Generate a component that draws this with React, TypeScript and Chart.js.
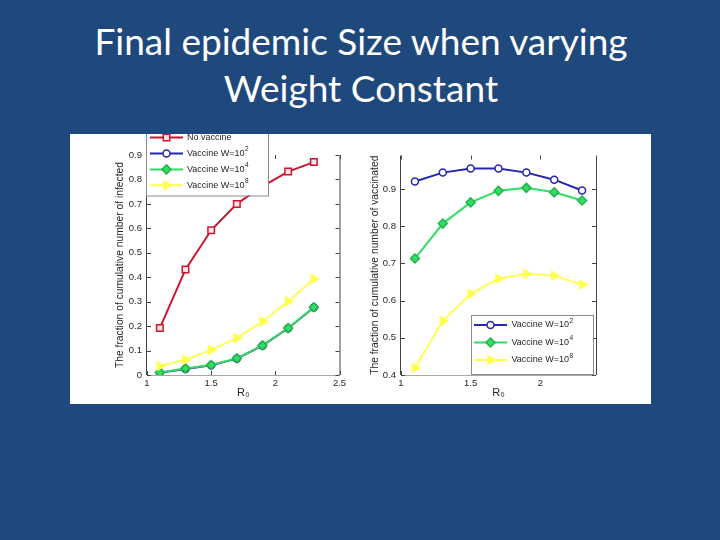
import { useEffect, useRef } from "react";
import { Chart, registerables, type ChartConfiguration, type Plugin } from "chart.js";
import { drawPoint } from "chart.js/helpers";

Chart.register(...registerables);

const R0 = [1.1, 1.3, 1.5, 1.7, 1.9, 2.1, 2.3];

// left panel: fraction of cumulative number of infected
const infNoVaccine = [0.192, 0.432, 0.592, 0.7, 0.772, 0.832, 0.871];
const infW2 = [0.009, 0.025, 0.04, 0.067, 0.12, 0.191, 0.276];
const infW4 = [0.01, 0.027, 0.041, 0.068, 0.121, 0.192, 0.277];
const infW8 = [0.037, 0.062, 0.103, 0.151, 0.219, 0.301, 0.393];

// right panel: fraction of cumulative number of vaccinated
const vacW2 = [0.92, 0.944, 0.955, 0.955, 0.944, 0.925, 0.896];
const vacW4 = [0.713, 0.807, 0.864, 0.895, 0.903, 0.891, 0.869];
const vacW8 = [0.419, 0.545, 0.618, 0.659, 0.672, 0.667, 0.643];

// "^" marks the exponent drawn as superscript in the legend
const seriesNames = ["No vaccine", "Vaccine W=10^2", "Vaccine W=10^4", "Vaccine W=10^8"];

const RED = "#d0142e";
const BLUE = "#2626b0";
const GREEN = "#33dd64";
const YELLOW = "#ffff52";
const TEXT = "#262626";
const FONT = "'Liberation Sans', Arial, sans-serif";

Chart.defaults.font.family = FONT;
Chart.defaults.color = TEXT;

const fmt = (v: string | number) => String(+Number(v).toFixed(2));

type Marker = { color: string; fill: string; edge: string; style: string; radius: number; rotation?: number };

const markers: Marker[] = [
  { color: RED, fill: "#fbe4e7", edge: RED, style: "rect", radius: 4.6 },
  { color: BLUE, fill: "#ffffff", edge: BLUE, style: "circle", radius: 3.5 },
  { color: GREEN, fill: GREEN, edge: "#22b24f", style: "rectRot", radius: 4.5 },
  { color: YELLOW, fill: YELLOW, edge: YELLOW, style: "triangle", radius: 5, rotation: 90 },
];

function series(name: string, values: number[], m: Marker, order: number) {
  return {
    label: name,
    data: R0.map((x, i) => ({ x, y: values[i] })),
    borderColor: m.color,
    borderWidth: 2,
    pointStyle: m.style,
    pointRadius: m.radius,
    pointRotation: m.rotation ?? 0,
    pointBackgroundColor: m.fill,
    pointBorderColor: m.edge,
    pointBorderWidth: 1.5,
    order,
  };
}

// MATLAB-like frame: left/right/bottom lines with inward ticks on all sides
const framePlugin: Plugin = {
  id: "matlabFrame",
  beforeDatasetsDraw(chart) {
    const { ctx, chartArea: a } = chart;
    const xs = chart.scales.x;
    const ys = chart.scales.y;
    const len = 4;
    ctx.save();
    ctx.lineWidth = 1;
    ctx.strokeStyle = "#a8a8a8";
    ctx.beginPath();
    ctx.moveTo(a.left, a.bottom + 0.5);
    ctx.lineTo(a.right, a.bottom + 0.5);
    ctx.stroke();
    ctx.strokeStyle = "#444";
    ctx.beginPath();
    ctx.moveTo(a.left - 0.5, a.top);
    ctx.lineTo(a.left - 0.5, a.bottom);
    ctx.moveTo(a.right + 0.5, a.top);
    ctx.lineTo(a.right + 0.5, a.bottom);
    xs.ticks.forEach((t) => {
      const px = Math.round(xs.getPixelForValue(t.value)) + 0.5;
      ctx.moveTo(px, a.bottom);
      ctx.lineTo(px, a.bottom - len);
      ctx.moveTo(px, a.top);
      ctx.lineTo(px, a.top + len);
    });
    ys.ticks.forEach((t) => {
      const py = Math.round(ys.getPixelForValue(t.value)) + 0.5;
      ctx.moveTo(a.left, py);
      ctx.lineTo(a.left + len, py);
      ctx.moveTo(a.right, py);
      ctx.lineTo(a.right - len, py);
    });
    ctx.stroke();
    ctx.restore();
  },
};

type LegendSpec = {
  box: [number, number, number, number];
  rowY: number;
  rowGap: number;
  lineX: [number, number];
  textX: number;
};

function boxLegend(spec: LegendSpec): Plugin {
  return {
    id: "boxLegend",
    afterDraw(chart) {
      const { ctx } = chart;
      const [bx, by, bw, bh] = spec.box;
      ctx.save();
      ctx.fillStyle = "#fff";
      ctx.fillRect(bx, by, bw, bh);
      ctx.strokeStyle = "#8c8c8c";
      ctx.lineWidth = 1;
      ctx.strokeRect(bx + 0.5, by + 0.5, bw, bh);
      chart.data.datasets.forEach((ds: any, i) => {
        const y = spec.rowY + i * spec.rowGap;
        const [x0, x1] = spec.lineX;
        ctx.strokeStyle = ds.borderColor;
        ctx.lineWidth = ds.borderWidth;
        ctx.beginPath();
        ctx.moveTo(x0, y);
        ctx.lineTo(x1, y);
        ctx.stroke();
        ctx.fillStyle = ds.pointBackgroundColor;
        ctx.strokeStyle = ds.pointBorderColor;
        ctx.lineWidth = ds.pointBorderWidth;
        drawPoint(
          ctx,
          {
            pointStyle: ds.pointStyle,
            rotation: ds.pointRotation,
            radius: ds.pointRadius,
            borderWidth: ds.pointBorderWidth,
          } as any,
          (x0 + x1) / 2,
          y,
        );
        const [base, sup] = String(ds.label).split("^");
        ctx.fillStyle = TEXT;
        ctx.textBaseline = "middle";
        ctx.textAlign = "left";
        ctx.font = `9px ${FONT}`;
        ctx.fillText(base, spec.textX, y);
        if (sup) {
          const w = ctx.measureText(base).width;
          ctx.font = `6.5px ${FONT}`;
          ctx.fillText(sup, spec.textX + w + 0.5, y - 4);
        }
      });
      ctx.restore();
    },
  };
}

function makeConfig(opts: {
  datasets: any[];
  xMax: number;
  yMin: number;
  yMax: number;
  yTitle: string;
  yWidth: number;
  yTitlePad: number;
  padding: { top: number; right: number };
  legend: LegendSpec;
}): ChartConfiguration {
  return {
    type: "line",
    data: { datasets: opts.datasets },
    options: {
      animation: false,
      responsive: false,
      layout: { padding: { left: 0, bottom: 0, top: opts.padding.top, right: opts.padding.right } },
      plugins: { legend: { display: false }, tooltip: { enabled: false } },
      scales: {
        x: {
          type: "linear",
          min: 1,
          max: opts.xMax,
          grid: { display: false, drawTicks: false },
          border: { display: false },
          ticks: { stepSize: 0.5, includeBounds: false, padding: 3, callback: fmt, font: { size: 9.5 }, color: TEXT },
          title: { display: true, text: "R₀", font: { size: 11 }, color: TEXT, padding: { top: 0, bottom: 4 } },
          afterFit: (s: any) => {
            s.height = 29;
          },
        },
        y: {
          type: "linear",
          min: opts.yMin,
          max: opts.yMax,
          grid: { display: false, drawTicks: false },
          border: { display: false },
          ticks: { stepSize: 0.1, includeBounds: false, padding: 5, callback: fmt, font: { size: 9.5 }, color: TEXT },
          title: {
            display: true,
            text: opts.yTitle,
            font: { size: 10.3 },
            color: TEXT,
            padding: { top: opts.yTitlePad, bottom: 0 },
          },
          afterFit: (s: any) => {
            s.width = opts.yWidth;
          },
        },
      },
    },
    plugins: [framePlugin, boxLegend(opts.legend)],
  };
}

function ChartCanvas({ config, width, height }: { config: ChartConfiguration; width: number; height: number }) {
  const ref = useRef<HTMLCanvasElement>(null);
  useEffect(() => {
    if (!ref.current) return;
    const chart = new Chart(ref.current, config);
    return () => chart.destroy();
  }, [config]);
  return <canvas ref={ref} width={width} height={height} style={{ width, height, display: "block" }} />;
}

const leftConfig = makeConfig({
  datasets: [
    series(seriesNames[0], infNoVaccine, markers[0], 4),
    series(seriesNames[1], infW2, markers[1], 3),
    series(seriesNames[2], infW4, markers[2], 2),
    series(seriesNames[3], infW8, markers[3], 1),
  ],
  xMax: 2.5,
  yMin: 0,
  yMax: 0.9,
  yTitle: "The fraction of cumulative number of infected",
  yWidth: 77,
  yTitlePad: 43.5,
  padding: { top: 21, right: 20.5 },
  legend: { box: [76, -9, 122, 70.5], rowY: 3.6, rowGap: 15.9, lineX: [80, 113], textX: 117 },
});

const rightConfig = makeConfig({
  datasets: [
    series(seriesNames[1], vacW2, markers[1], 3),
    series(seriesNames[2], vacW4, markers[2], 2),
    series(seriesNames[3], vacW8, markers[3], 1),
  ],
  xMax: 2.4,
  yMin: 0.4,
  yMax: 0.99,
  yTitle: "The fraction of cumulative number of vaccinated",
  yWidth: 41,
  yTitlePad: 9,
  padding: { top: 21.5, right: 55 },
  legend: { box: [111, 181, 122, 59], rowY: 191, rowGap: 17.5, lineX: [114, 147], textX: 151.5 },
});

export default function App() {
  return (
    <div
      style={{
        position: "absolute",
        left: 0,
        top: 0,
        width: 720,
        height: 540,
        background: "#1f497d",
        overflow: "hidden",
      }}
    >
      <div
        style={{
          position: "absolute",
          left: 1,
          top: 17,
          width: 720,
          textAlign: "center",
          color: "#fff",
          fontFamily: "Lato, 'Open Sans', sans-serif",
          fontSize: 37,
          lineHeight: "47px",
        }}
      >
        Final epidemic Size when varying
        <br />
        Weight Constant
      </div>
      <div
        style={{
          position: "absolute",
          left: 70,
          top: 134,
          width: 581,
          height: 270,
          background: "#fff",
          display: "flex",
        }}
      >
        <ChartCanvas config={leftConfig} width={290} height={270} />
        <ChartCanvas config={rightConfig} width={291} height={270} />
      </div>
    </div>
  );
}
